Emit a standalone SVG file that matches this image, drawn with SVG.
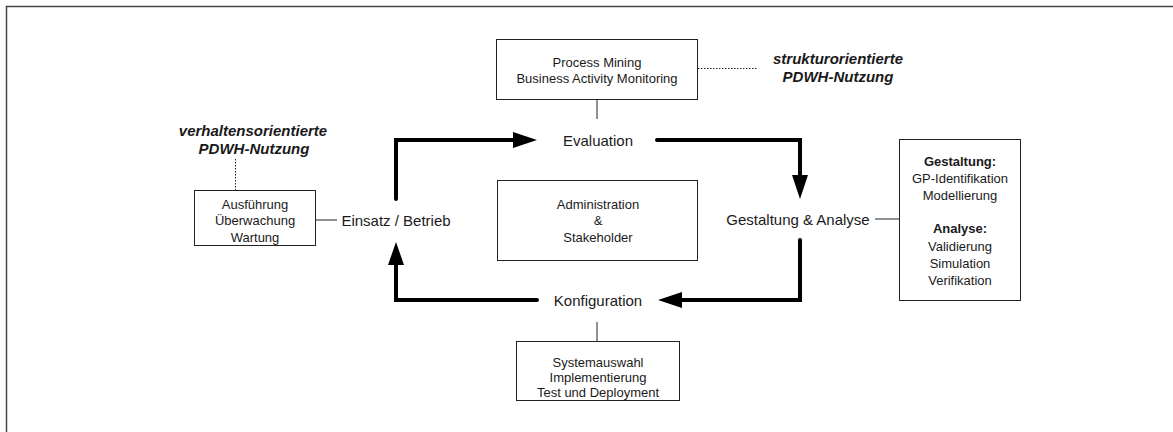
<svg xmlns="http://www.w3.org/2000/svg" width="1173" height="432" viewBox="0 0 1173 432">
<style>
text{font-family:"Liberation Sans",Arial,sans-serif;fill:#1a1a1a;text-anchor:middle;dominant-baseline:central}
.s{font-size:13px}
.l{font-size:15px}
.b{font-size:13px;font-weight:bold}
.bi{font-size:15px;font-weight:bold;font-style:italic}
.box{fill:#fff;stroke:#222;stroke-width:1}
.thin{stroke:#222;stroke-width:1;fill:none}
.dot{stroke:#222;stroke-width:1;stroke-dasharray:1.5 1.5;fill:none}
.thick{stroke:#000;stroke-width:4;fill:none;stroke-linecap:round;stroke-linejoin:miter}
.head{fill:#000}
</style>
<g id="frame"><path d="M6.5 432 V6.5 H1173" stroke="#444" stroke-width="1.5" fill="none"/></g>

<g id="connectors">
  <line class="thin" x1="597" y1="99" x2="597" y2="119"/>
  <line class="dot" x1="698" y1="68.5" x2="758" y2="68.5"/>
  <line class="dot" x1="235.5" y1="159" x2="235.5" y2="190"/>
  <line class="thin" x1="316" y1="220" x2="337" y2="220"/>
  <line class="thin" x1="875" y1="219" x2="899" y2="219"/>
  <line class="thin" x1="597" y1="322" x2="597" y2="341"/>
  <path class="thick" d="M396 199 V140 H516"/>
  <polygon class="head" points="537,140 513,132 513,148"/>
  <path class="thick" d="M657 140 H800 V178"/>
  <polygon class="head" points="800,199 792,175 808,175"/>
  <path class="thick" d="M800 240 V300 H679"/>
  <polygon class="head" points="658,300 682,292 682,308"/>
  <path class="thick" d="M537 300 H396 V262"/>
  <polygon class="head" points="396,242 388,265 404,265"/>
</g>

<g id="pm">
  <rect class="box" x="496.5" y="39.5" width="201" height="60"/>
  <text class="s" x="597" y="62">Process Mining</text>
  <text class="s" x="597" y="78">Business Activity Monitoring</text>
</g>
<g id="struktur">
  <text class="bi" x="838" y="58">strukturorientierte</text>
  <text class="bi" x="838" y="76">PDWH-Nutzung</text>
</g>
<g id="verhalten">
  <text class="bi" x="253" y="130">verhaltensorientierte</text>
  <text class="bi" x="254" y="148">PDWH-Nutzung</text>
</g>
<g id="evaluation"><text class="l" x="598" y="140">Evaluation</text></g>
<g id="admin">
  <rect class="box" x="497.5" y="180.5" width="200" height="80"/>
  <text class="s" x="598" y="204">Administration</text>
  <text class="s" x="598" y="220">&amp;</text>
  <text class="s" x="598" y="237">Stakeholder</text>
</g>
<g id="einsatz"><text class="l" x="396" y="220">Einsatz / Betrieb</text></g>
<g id="ausfuehrung">
  <rect class="box" x="194.5" y="190.5" width="121" height="55"/>
  <text class="s" x="255" y="204">Ausführung</text>
  <text class="s" x="255" y="220">Überwachung</text>
  <text class="s" x="255" y="237">Wartung</text>
</g>
<g id="gestaltung"><text class="l" x="798" y="219">Gestaltung &amp; Analyse</text></g>
<g id="gestaltbox">
  <rect class="box" x="899.5" y="139.5" width="121" height="161"/>
  <text class="b" x="960" y="161">Gestaltung:</text>
  <text class="s" x="960" y="178">GP-Identifikation</text>
  <text class="s" x="960" y="195">Modellierung</text>
  <text class="b" x="960" y="228">Analyse:</text>
  <text class="s" x="960" y="246">Validierung</text>
  <text class="s" x="960" y="263">Simulation</text>
  <text class="s" x="960" y="280">Verifikation</text>
</g>
<g id="konfiguration"><text class="l" x="598" y="300">Konfiguration</text></g>
<g id="system">
  <rect class="box" x="516.5" y="341.5" width="163" height="59"/>
  <text class="s" x="598" y="362">Systemauswahl</text>
  <text class="s" x="598" y="377">Implementierung</text>
  <text class="s" x="598" y="392">Test und Deployment</text>
</g>
</svg>
